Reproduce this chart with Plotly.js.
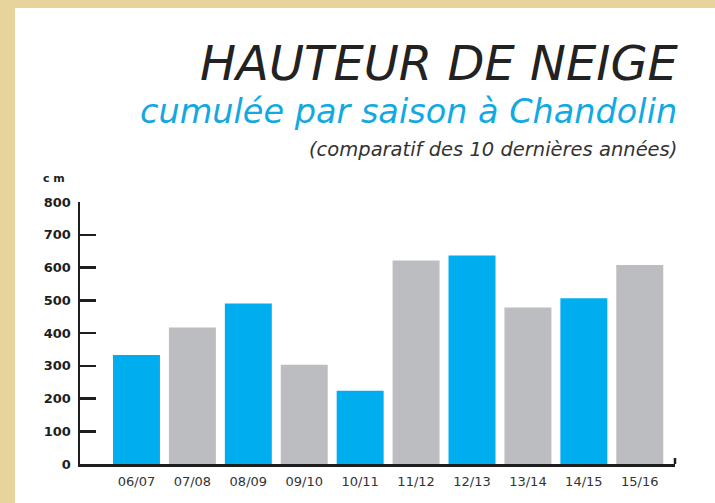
<!DOCTYPE html>
<html>
<head>
<meta charset="utf-8">
<script src="https://cdn.plot.ly/plotly-3.0.1.min.js"></script>
<style>html,body{margin:0;padding:0;background:#E7D49C;}#chart{width:715px;height:503px;}</style>
</head>
<body>
<div id="chart"></div>
<script>
const seasons = ["06/07","07/08","08/09","09/10","10/11","11/12","12/13","13/14","14/15","15/16"];
const snowCm = [333, 417, 490, 303, 224, 621, 637, 478, 506, 608];
const yTicks = [0, 100, 200, 300, 400, 500, 600, 700, 800];

const BLUE = "#00AEEF", GREY = "#BCBDC0", INK = "#1e1e1e";
const barColors = seasons.map((s, i) => i % 2 === 0 ? BLUE : GREY);

const W = 715, H = 503, L = 80, R = 40, T = 202, B = 39;
const pw = W - L - R, ph = H - T - B;
const px = x => (x - L) / pw;          // pixel -> paper x
const py = y => (H - B - y) / ph;      // pixel -> paper y

const trace = {
  type: "bar", x: seasons, y: snowCm,
  marker: {color: barColors, line: {width: 0}},
  hoverinfo: "none"
};

const fontMain = "'DejaVu Sans', Verdana, sans-serif";

const layout = {
  width: W, height: H,
  margin: {l: L, r: R, t: T, b: B, pad: 0},
  paper_bgcolor: "#E7D49C",
  plot_bgcolor: "rgba(0,0,0,0)",
  showlegend: false,
  bargap: 0.16,
  xaxis: {
    type: "category", range: [-1.01, 9.63],
    showline: true, linecolor: INK, linewidth: 2.5,
    ticks: "", showgrid: false, zeroline: false,
    tickfont: {family: fontMain, size: 13, color: "#333"},
    ticklabelstandoff: 4, fixedrange: true
  },
  yaxis: {
    range: [0, 800], tickvals: yTicks, ticktext: yTicks.map(String),
    showline: true, linecolor: INK, linewidth: 2.5,
    ticks: "inside", ticklen: 16, tickwidth: 2.5, tickcolor: INK,
    showgrid: false, zeroline: false,
    tickfont: {family: fontMain, size: 13, color: INK, weight: 700},
    ticklabelstandoff: 4, fixedrange: true
  },
  shapes: [
    {type: "rect", xref: "paper", yref: "paper", layer: "below",
     x0: px(15), x1: px(W + 5), y0: py(H + 5), y1: py(8),
     fillcolor: "#ffffff", line: {width: 0}},
    {type: "line", xref: "paper", yref: "paper",
     x0: 1, x1: 1, y0: 0, y1: py(458),
     line: {color: INK, width: 2.5}}
  ],
  annotations: [
    {xref: "paper", yref: "paper", x: px(681), y: py(63), xanchor: "right", yanchor: "middle",
     text: "HAUTEUR DE NEIGE", showarrow: false,
     font: {family: fontMain, size: 48, color: "#222", style: "italic", weight: 200}},
    {xref: "paper", yref: "paper", x: px(679), y: py(111), xanchor: "right", yanchor: "middle",
     text: "cumulée par saison à Chandolin", showarrow: false,
     font: {family: fontMain, size: 33.5, color: "#12A9E3", style: "italic"}},
    {xref: "paper", yref: "paper", x: px(679), y: py(150), xanchor: "right", yanchor: "middle",
     text: "(comparatif des 10 dernières années)", showarrow: false,
     font: {family: fontMain, size: 19.5, color: "#333", style: "italic"}},
    {xref: "paper", yref: "paper", x: px(54), y: py(178), xanchor: "center", yanchor: "middle",
     text: "c m", showarrow: false,
     font: {family: fontMain, size: 11, color: INK, weight: 700}}
  ]
};

Plotly.newPlot("chart", [trace], layout, {staticPlot: true, displayModeBar: false});
</script>
</body>
</html>
